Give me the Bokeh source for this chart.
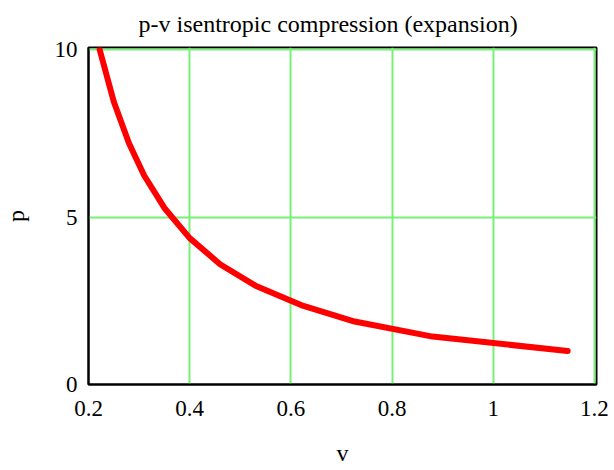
from bokeh.plotting import figure
from bokeh.models import FixedTicker, CustomJSTickFormatter, Range1d, Title
from bokeh.embed import file_html
from bokeh.resources import INLINE

# data
v_vals = [0.222, 0.25, 0.28, 0.31, 0.35, 0.40, 0.46, 0.53, 0.62, 0.726, 0.88, 1.147]
p_vals = [10.0, 8.44, 7.20, 6.24, 5.27, 4.37, 3.59, 2.95, 2.37, 1.88, 1.43, 1.0]

x_ticks = [0.2, 0.4, 0.6, 0.8, 1.0, 1.2]
y_ticks = [0, 5, 10]
x_grid = [0.4, 0.6, 0.8, 1.0, 1.2]
y_grid = [5, 10]

title_text = "p-v isentropic compression (expansion)"
x_label = "v"
y_label = "p"

FONT = "Liberation Serif"

p = figure(width=614, height=470, output_backend="svg", toolbar_location=None,
           x_range=Range1d(0.2, 1.204), y_range=Range1d(0, 10.06),
           min_border_left=88, min_border_right=18, min_border_top=47,
           min_border_bottom=86, title=None)

p.line(v_vals, p_vals, line_color="#FF0000", line_width=6,
       line_cap="round", line_join="round")

fmt = CustomJSTickFormatter(code="return tick.toFixed(1).replace(/\\.0$/, '');")

for ax, ticks in ((p.xaxis[0], x_ticks), (p.yaxis[0], y_ticks)):
    ax.ticker = FixedTicker(ticks=ticks)
    ax.formatter = fmt
    ax.major_tick_line_color = None
    ax.minor_tick_line_color = None
    ax.axis_line_color = "black"
    ax.axis_line_width = 2
    ax.major_label_text_font = FONT
    ax.major_label_text_font_size = "23px"
    ax.major_label_text_color = "black"

p.xaxis.major_label_standoff = 10
p.yaxis.major_label_standoff = 5

p.xgrid.ticker = FixedTicker(ticks=x_grid)
p.ygrid.ticker = FixedTicker(ticks=y_grid)
p.grid.grid_line_color = "#78F078"
p.grid.grid_line_width = 2

p.outline_line_color = "black"
p.outline_line_width = 2
p.outline_line_alpha = 1.0
p.background_fill_color = "white"
p.border_fill_color = "white"

def mk_title(text, align="center", standoff=10, offset=0, valign="bottom"):
    return Title(text=text, text_font=FONT, text_font_size="24px",
                 text_font_style="normal", text_color="black",
                 align=align, standoff=standoff, offset=offset,
                 vertical_align=valign)

def spacer(size):
    return Title(text=" ", text_font_size="1px", standoff=size)

p.add_layout(mk_title(title_text, align="left", standoff=18, offset=50, valign="top"), "above")
p.add_layout(spacer(13), "below")
p.add_layout(mk_title(x_label, standoff=7), "below")
p.add_layout(spacer(18), "left")
p.add_layout(mk_title(y_label, standoff=0, valign="top"), "left")

open("out.html", "w").write(file_html(p, INLINE))
